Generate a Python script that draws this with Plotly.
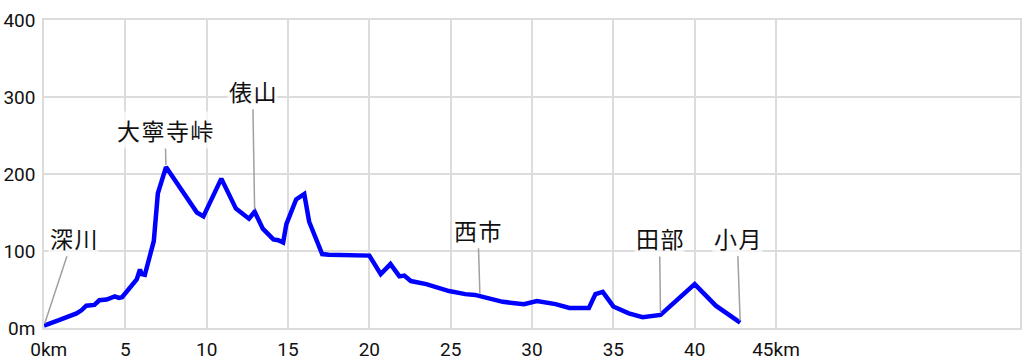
import plotly.graph_objects as go

# distance (km) and elevation (m)
dist_km = [0.0, 0.57, 1.0, 2.0, 2.3, 2.6, 3.1, 3.4, 3.85, 4.35, 4.6, 4.8, 5.2, 5.7, 5.9, 6.0, 6.2,
           6.75, 7.0, 7.5, 9.4, 9.8, 10.9, 11.8, 12.6, 12.95, 13.45, 14.1, 14.4, 14.7, 14.9, 15.5,
           16.0, 16.3, 17.1, 17.5, 20.0, 20.7, 21.3, 21.85, 22.15, 22.55, 23.5, 24.9, 25.9, 26.5,
           28.2, 29.2, 29.5, 30.3, 31.45, 32.3, 33.5, 33.9, 34.35, 35.0, 35.95, 36.8, 37.9, 40.0,
           41.3, 42.8]
elev_m = [3, 7, 11, 19, 23, 29, 30, 36, 37, 41, 39, 40, 51, 63, 76, 70, 69,
          113, 175, 209, 150, 145, 194, 155, 142, 151, 129, 115, 114, 111, 135, 167,
          174, 138, 96, 95, 94, 70, 83, 67, 68, 61, 57, 48, 44, 43,
          34, 31, 31, 35, 31, 26, 26, 44, 47, 28, 19, 14, 17, 57,
          29, 7]

# place markers
place_names = ["深川", "大寧寺峠", "俵山", "西市", "田部", "小月"]
place_km = [0.0, 7.5, 12.95, 26.8, 37.9, 42.8]
place_elev = [3, 209, 151, 42, 17, 7]
label_ax = [29, -1, -2, -2, -1, -3]
label_ay = [-88, -37, -121, -66, -77, -85]

x_ticks = [0, 5, 10, 15, 20, 25, 30, 35, 40, 45]
x_ticktext = ["\u00a0\u00a00km", "5", "10", "15", "20", "25", "30", "35", "40", "45km"]
y_ticks = [0, 100, 200, 300, 400]
y_ticktext = ["0m", "100", "200", "300", "400"]

fig = go.Figure()
fig.add_trace(go.Scatter(x=dist_km, y=elev_m, mode="lines",
                         line=dict(color="#0000ff", width=4.5), hoverinfo="skip"))

for name, xk, ye, ax, ay in zip(place_names, place_km, place_elev, label_ax, label_ay):
    fig.add_annotation(x=xk, y=ye, text="\u200a".join(name), showarrow=True, arrowhead=0,
                       arrowwidth=1.5, arrowcolor="#a0a0a0", ax=ax, ay=ay,
                       standoff=2, bgcolor="rgba(255,255,255,0.7)",
                       font=dict(family="Noto Sans CJK JP", size=23, color="#111"))

tick_font = dict(family="Roboto", size=19, color="#111")
fig.update_xaxes(range=[0, 60], tickvals=x_ticks, ticktext=x_ticktext, showgrid=True,
                 gridcolor="#dcdcdc", gridwidth=1.5, zeroline=False, showline=True,
                 linecolor="#dcdcdc", linewidth=1.5, mirror=True, ticks="", ticklen=0,
                 tickfont=tick_font, ticklabelstandoff=3, automargin=False, fixedrange=True)
fig.update_yaxes(range=[0, 400], tickvals=y_ticks, ticktext=y_ticktext, showgrid=True,
                 gridcolor="#dcdcdc", gridwidth=1.5, zeroline=False, showline=True,
                 linecolor="#dcdcdc", linewidth=1.5, mirror=True, ticks="", ticklen=0,
                 tickfont=tick_font, ticklabelstandoff=3, automargin=False, fixedrange=True)
fig.update_layout(width=1024, height=362, margin=dict(l=44, r=4, t=20, b=34),
                  plot_bgcolor="white", paper_bgcolor="white", showlegend=False)

# remove the page's default body margin so the figure fills the window exactly
fig.write_html("out.html", config={"displayModeBar": False},
               post_script="document.body.style.margin='0';document.body.style.overflow='hidden';")
